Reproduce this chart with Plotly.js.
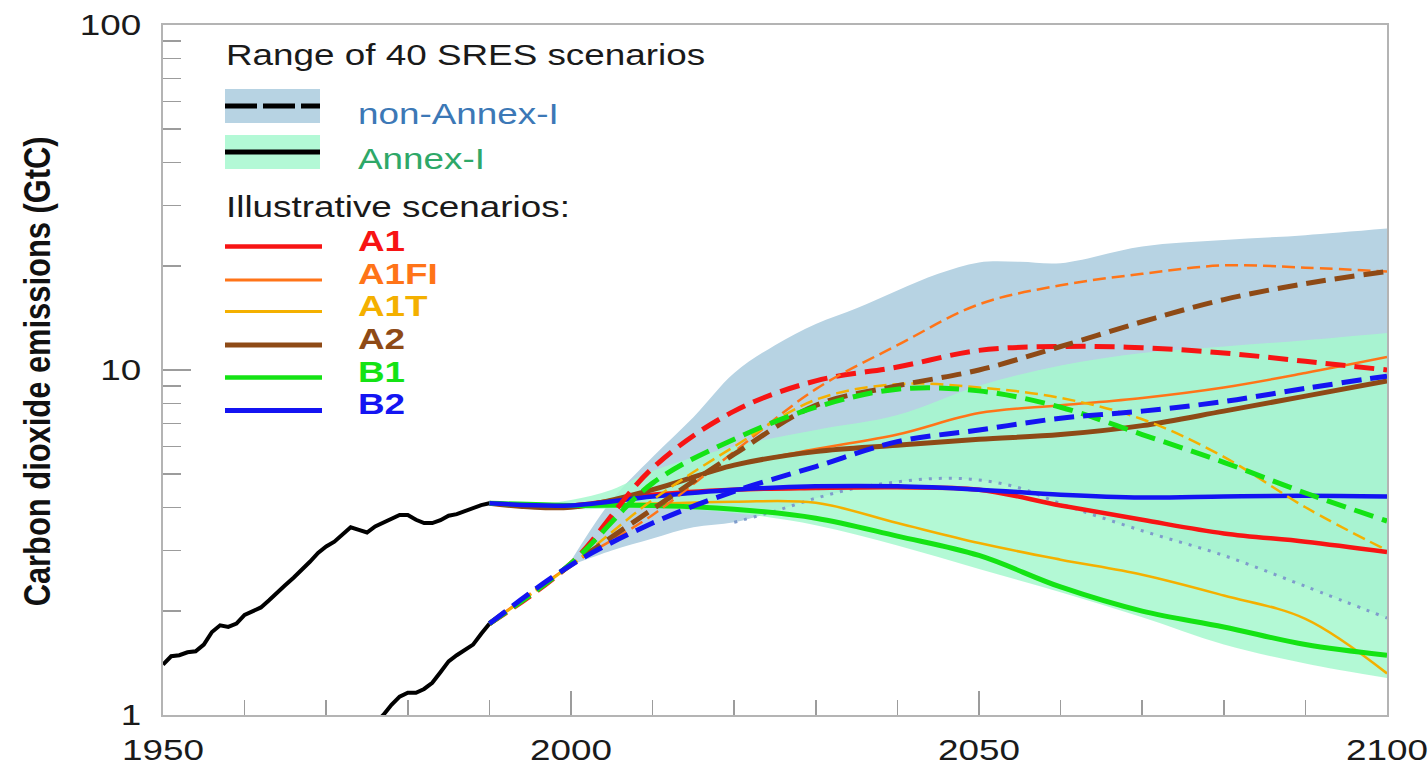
<!DOCTYPE html>
<html>
<head>
<meta charset="utf-8">
<script src="https://cdn.plot.ly/plotly-3.0.1.min.js"></script>
<style>
html,body{margin:0;padding:0;background:#ffffff;}
#chart{width:1428px;height:767px;}
</style>
</head>
<body>
<div id="chart"></div>
<script>
// ---------------- DATA ----------------
const histYears = [1950,1951,1952,1953,1954,1955,1956,1957,1958,1959,1960,1961,1962,1963,1964,1965,1966,1967,1968,1969,1970,1971,1972,1973,1974,1975,1976,1977,1978,1979,1980,1981,1982,1983,1984,1985,1986,1987,1988,1989,1990];
const histAnnexI = [1.40,1.48,1.49,1.52,1.53,1.60,1.74,1.82,1.80,1.84,1.95,2.00,2.05,2.15,2.27,2.38,2.50,2.63,2.78,2.95,3.08,3.18,3.35,3.50,3.44,3.38,3.52,3.62,3.72,3.80,3.80,3.68,3.60,3.60,3.67,3.78,3.82,3.90,3.98,4.06,4.11];
const histNonAnnexYears = [1976,1977,1978,1979,1980,1981,1982,1983,1984,1985,1986,1987,1988,1989,1990];
const histNonAnnexI = [0.95,1.00,1.07,1.13,1.16,1.16,1.19,1.24,1.33,1.43,1.49,1.54,1.60,1.72,1.84];

const scenYears = [1990,2000,2010,2020,2030,2040,2050,2060,2070,2080,2090,2100];
const scenarios = ['A1','A1FI','A1T','A2','B1','B2'];

// Annex-I (solid)
const annexI_A1   = [4.11,4.05,4.35,4.50,4.55,4.57,4.50,4.05,3.68,3.36,3.18,2.97];
const annexI_A1FI = [4.11,4.00,4.50,5.30,5.90,6.50,7.50,7.90,8.30,8.90,9.80,10.9];
const annexI_A1T  = [4.11,4.05,4.10,4.15,4.12,3.60,3.15,2.82,2.55,2.22,1.90,1.32];
const annexI_A2   = [4.11,4.00,4.50,5.30,5.80,6.05,6.30,6.50,6.90,7.60,8.40,9.30];
const annexI_B1   = [4.11,4.05,4.05,3.95,3.72,3.30,2.90,2.35,2.00,1.80,1.60,1.49];
const annexI_B2   = [4.11,4.05,4.30,4.50,4.60,4.60,4.50,4.35,4.27,4.30,4.32,4.30];

// non-Annex-I (dashed)
const nonAnnex_A1   = [1.84,2.75,5.20,7.60,9.30,10.2,11.4,11.7,11.6,11.2,10.6,10.0];
const nonAnnex_A1FI = [1.84,2.72,3.80,5.80,8.80,11.8,15.5,17.6,19.0,20.1,19.8,19.3];
const nonAnnex_A1T  = [1.84,2.72,4.20,6.00,8.20,9.10,8.90,8.30,7.20,5.60,4.00,3.00];
const nonAnnex_A2   = [1.84,2.72,3.95,5.70,7.90,9.00,10.0,11.7,13.8,16.0,17.8,19.3];
const nonAnnex_B1   = [1.84,2.75,4.70,6.30,7.80,8.80,8.70,7.80,6.50,5.40,4.40,3.65];
const nonAnnex_B2   = [1.84,2.72,3.60,4.45,5.25,6.20,6.70,7.25,7.60,8.10,8.85,9.60];

// Range of 40 SRES scenarios
const rangeNonAnnexYears = [2000,2005,2010,2015,2020,2025,2030,2035,2040,2045,2050,2055,2060,2070,2080,2090,2100];
const rangeNonAnnexUpper = [2.80,4.20,5.60,7.30,9.80,11.8,13.6,15.1,17.0,19.0,20.5,20.6,20.4,22.8,23.8,24.6,25.7];
const rangeNonAnnexLower = [2.72,3.00,3.25,3.50,3.62,3.90,4.25,4.55,4.74,4.85,4.80,4.55,4.10,3.42,2.90,2.36,1.91];
const rangeAnnexYears = [1995,2000,2005,2010,2020,2030,2040,2050,2060,2070,2080,2090,2100];
const rangeAnnexUpper = [4.05,4.20,4.50,5.10,6.00,6.70,7.40,9.00,10.3,11.2,11.7,12.2,12.8];
const rangeAnnexLower = [4.05,3.95,3.97,3.98,3.85,3.55,3.10,2.65,2.27,1.92,1.60,1.41,1.28];

// Axis ticks
const xTickVals = [1950,2000,2050,2100];
const xTickText = ['1950','2000','2050','2100'];
const xMinorVals = [1960,1970,1980,1990,2010,2020,2030,2040,2060,2070,2080,2090];
const yTickVals = [1,10,100];
const yTickText = ['1','10','100'];
const yMinorVals = [2,3,4,5,6,7,8,9,20,30,40,50,60,70,80,90];

// ---------------- STYLE ----------------
const FONT = 'Liberation Sans, Arial, Helvetica, sans-serif';
const scenColors = {A1:'#f71414', A1FI:'#ff7418', A1T:'#f4b000', A2:'#8e4a16', B1:'#14e314', B2:'#1414f2'};
const solidWidth = {A1:4.5, A1FI:2.5, A1T:2.5, A2:5, B1:5, B2:4.5};
const dashWidth  = {A1:5, A1FI:2.5, A1T:2.5, A2:5, B1:5, B2:5};
const dashPat    = {A1:'20px,9px', A1FI:'13px,6px', A1T:'13px,6px', A2:'20px,9px', B1:'20px,9px', B2:'20px,9px'};
const legendWidth = {A1:4.5, A1FI:3, A1T:3, A2:5, B1:4.5, B2:5};
const annexSeries = {A1:annexI_A1, A1FI:annexI_A1FI, A1T:annexI_A1T, A2:annexI_A2, B1:annexI_B1, B2:annexI_B2};
const nonAnnexSeries = {A1:nonAnnex_A1, A1FI:nonAnnex_A1FI, A1T:nonAnnex_A1T, A2:nonAnnex_A2, B1:nonAnnex_B1, B2:nonAnnex_B2};

const BLUE_BAND = '#b7d3e3';
const MINT_BAND = 'rgba(166,248,206,0.85)';

// ---------------- TRACES ----------------
const data = [];
data.push({x:rangeNonAnnexYears, y:rangeNonAnnexLower, mode:'lines', line:{width:0, shape:'spline'}, hoverinfo:'skip'});
data.push({x:rangeNonAnnexYears, y:rangeNonAnnexUpper, mode:'lines', fill:'tonexty', fillcolor:BLUE_BAND, line:{width:0, shape:'spline'}, hoverinfo:'skip'});
data.push({x:rangeAnnexYears, y:rangeAnnexLower, mode:'lines', line:{width:0, shape:'spline'}, hoverinfo:'skip'});
data.push({x:rangeAnnexYears, y:rangeAnnexUpper, mode:'lines', fill:'tonexty', fillcolor:MINT_BAND, line:{width:0, shape:'spline'}, hoverinfo:'skip'});
// dotted lower edge of non-Annex-I range inside the Annex-I range
const dotStart = rangeNonAnnexYears.indexOf(2020);
data.push({x:rangeNonAnnexYears.slice(dotStart), y:rangeNonAnnexLower.slice(dotStart), mode:'lines',
  line:{color:'#7f9ccc', width:3, dash:'3px,7px', shape:'spline'}, hoverinfo:'skip'});
// history
data.push({x:histYears, y:histAnnexI, mode:'lines', line:{color:'#000000', width:4}});
data.push({x:histNonAnnexYears, y:histNonAnnexI, mode:'lines', line:{color:'#000000', width:4}});
// scenarios solid (Annex-I)
scenarios.forEach(s => data.push({x:scenYears, y:annexSeries[s], mode:'lines', name:s+' Annex-I',
  line:{color:scenColors[s], width:solidWidth[s], shape:'spline', smoothing:1}}));
// scenarios dashed (non-Annex-I)
scenarios.forEach(s => data.push({x:scenYears, y:nonAnnexSeries[s], mode:'lines', name:s+' non-Annex-I',
  line:{color:scenColors[s], width:dashWidth[s], dash:dashPat[s], shape:'spline', smoothing:1}}));

// ---------------- LEGEND (shapes + annotations) ----------------
const PL = 163, PT = 25, PW = 1224, PH = 690;
const px2x = p => (p - PL) / PW;
const px2y = p => (PT + PH - p) / PH;

const shapes = [
  {type:'rect', xref:'paper', yref:'paper', x0:px2x(225), x1:px2x(320), y0:px2y(123), y1:px2y(89), fillcolor:BLUE_BAND, line:{width:0}},
  {type:'line', xref:'paper', yref:'paper', x0:px2x(225), x1:px2x(320), y0:px2y(106), y1:px2y(106), line:{color:'#000', width:5, dash:'32px,6px'}},
  {type:'rect', xref:'paper', yref:'paper', x0:px2x(225), x1:px2x(320), y0:px2y(169), y1:px2y(135), fillcolor:'#b3f9d6', line:{width:0}},
  {type:'line', xref:'paper', yref:'paper', x0:px2x(225), x1:px2x(320), y0:px2y(152), y1:px2y(152), line:{color:'#000', width:5}}
];
const legendLineY = [246.5, 280, 311.5, 345, 377.5, 410.5];
const legendTextY = [241, 274, 306, 339, 372, 404];
const annotations = [
  {text:'Range of 40 SRES scenarios', x:px2x(224), y:px2y(55), color:'#1a1a1a'},
  {text:'non-Annex-I', x:px2x(356), y:px2y(114), color:'#3c78b6'},
  {text:'Annex-I', x:px2x(356), y:px2y(159), color:'#2ea868'},
  {text:'Illustrative scenarios:', x:px2x(224), y:px2y(207), color:'#1a1a1a'}
].map(a => ({text:a.text, xref:'paper', yref:'paper', x:a.x, y:a.y, xanchor:'left', yanchor:'middle', align:'left',
  showarrow:false, font:{family:FONT, size:29, color:a.color}}));

scenarios.forEach((s, i) => {
  shapes.push({type:'line', xref:'paper', yref:'paper', x0:px2x(225), x1:px2x(322), y0:px2y(legendLineY[i]), y1:px2y(legendLineY[i]),
    line:{color:scenColors[s], width:legendWidth[s]}});
  annotations.push({text:s, xref:'paper', yref:'paper', x:px2x(356), y:px2y(legendTextY[i]), xanchor:'left', yanchor:'middle', align:'left',
    showarrow:false, font:{family:FONT, size:29, color:scenColors[s], weight:'bold'}});
});

// y-axis title
const Y_TITLE = 'Carbon dioxide emissions (GtC)';
annotations.push({text:Y_TITLE, xref:'paper', yref:'paper', x:px2x(37), y:px2y(372),
  xanchor:'center', yanchor:'middle', textangle:-90, showarrow:false,
  font:{family:FONT, size:37, color:'#111', weight:'bold'}});

// ---------------- LAYOUT ----------------
const AXIS_LINE = '#b4b4b4', TICK_COL = '#9c9c9c';
const layout = {
  width:1428, height:767,
  margin:{l:PL, r:1428-PL-PW, t:PT, b:767-PT-PH},
  paper_bgcolor:'#ffffff', plot_bgcolor:'#ffffff',
  showlegend:false,
  xaxis:{range:[1950,2100], tickmode:'array', tickvals:xTickVals, ticktext:xTickText,
    ticks:'inside', ticklen:24, tickwidth:1.5, tickcolor:TICK_COL,
    minor:{tickmode:'array', tickvals:xMinorVals, ticks:'inside', ticklen:15, tickwidth:1.5, tickcolor:TICK_COL, showgrid:false},
    showline:true, linecolor:AXIS_LINE, linewidth:2, mirror:true, showgrid:false, zeroline:false,
    tickfont:{family:FONT, size:29, color:'#1a1a1a'}, ticklabelstandoff:8},
  yaxis:{type:'log', range:[0,2], tickmode:'array', tickvals:yTickVals, ticktext:yTickText,
    ticks:'inside', ticklen:28, tickwidth:1.5, tickcolor:TICK_COL,
    minor:{tickmode:'array', tickvals:yMinorVals, ticks:'inside', ticklen:18, tickwidth:1.5, tickcolor:TICK_COL, showgrid:false},
    showline:true, linecolor:AXIS_LINE, linewidth:2, mirror:true, showgrid:false, zeroline:false,
    tickfont:{family:FONT, size:29, color:'#1a1a1a'}, ticklabelstandoff:14},
  shapes:shapes,
  annotations:annotations
};

// the reference lettering is horizontally wide; widen the glyphs of horizontal texts,
// and give the rotated title its length while keeping its heavy letter height
function widenText(gd){
  gd.querySelectorAll('.annotation-text, .xtick text, .ytick text').forEach(t => {
    t.removeAttribute('textLength');
    const w = t.getComputedTextLength();
    if (!(w > 0)) return;
    const isTitle = (t.textContent || '').indexOf('Carbon') === 0;
    t.setAttribute('textLength', (isTitle ? 470 : w * 1.27).toFixed(1));
    t.setAttribute('lengthAdjust', 'spacingAndGlyphs');
  });
}

const gd = document.getElementById('chart');
Plotly.newPlot(gd, data, layout, {displayModeBar:false, staticPlot:true}).then(() => {
  widenText(gd);
  if (gd.on) gd.on('plotly_afterplot', () => widenText(gd));
});
</script>
</body>
</html>
